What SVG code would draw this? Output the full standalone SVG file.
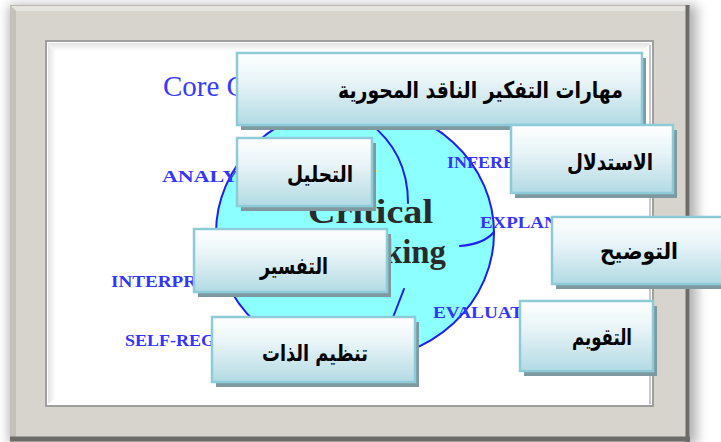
<svg xmlns="http://www.w3.org/2000/svg" width="721" height="442" viewBox="0 0 721 442">
<defs>
  <linearGradient id="boxg" x1="0" y1="0" x2="0" y2="1">
    <stop offset="0" stop-color="#ffffff"/>
    <stop offset="0.4" stop-color="#e8f4f7"/>
    <stop offset="1" stop-color="#b2dae4"/>
  </linearGradient>
  <linearGradient id="topband" x1="0" y1="0" x2="0" y2="1">
    <stop offset="0" stop-color="#e2e2e2"/>
    <stop offset="1" stop-color="#ffffff"/>
  </linearGradient>
  <linearGradient id="leftband" x1="0" y1="0" x2="1" y2="0">
    <stop offset="0" stop-color="#e4e4e4"/>
    <stop offset="1" stop-color="#ffffff"/>
  </linearGradient>
  <filter id="outsh" x="-10%" y="-10%" width="120%" height="120%">
    <feGaussianBlur stdDeviation="6"/>
  </filter>
  <filter id="soft" x="-5%" y="-5%" width="110%" height="110%">
    <feGaussianBlur stdDeviation="0.7"/>
  </filter>
</defs>
<style>
  .box{fill:url(#boxg);stroke:#8ecbd8;stroke-width:2.5}
  .sh{fill:#7e9aa0}
  .ar{font-family:"DejaVu Sans",sans-serif;font-weight:bold;font-size:23px;fill:#000;text-anchor:middle}
  .lbl{font-family:"Liberation Serif",serif;font-weight:bold;font-size:17px;fill:#3434ff}
  .big{font-family:"Liberation Serif",serif;font-weight:bold;font-size:34px;fill:#2a2a2a}
  .cl{fill:none;stroke:#1e1ef5;stroke-width:2;stroke-linecap:round}
</style>
<rect width="721" height="442" fill="#ffffff"/>
<!-- frame -->
<g id="frame">
  <rect x="9" y="5" width="688" height="440" fill="#000" opacity="0.3" filter="url(#outsh)"/>
  <rect x="10" y="5" width="680" height="437" fill="#d7d4cd"/>
  <polygon points="10,5 690,5 684,11 16,11" fill="#e6e4df"/>
  <polygon points="10,5 16,11 16,436 10,442" fill="#c4c1ba"/>
  <line x1="10" y1="5.5" x2="690" y2="5.5" stroke="#b9b7b1" stroke-width="1"/>
  <line x1="687.5" y1="5" x2="687.5" y2="442" stroke="#6c6b67" stroke-width="4"/>
  <line x1="10" y1="439" x2="690" y2="439" stroke="#6c6b67" stroke-width="5"/>
  <rect x="46" y="41" width="607" height="365" fill="#ffffff" stroke="#9f9f9f" stroke-width="2"/>
  <polygon points="48,43 651,43 643,51 56,51" fill="url(#topband)"/>
  <polygon points="48,43 56,51 56,398 48,404" fill="url(#leftband)"/>
  <line x1="650" y1="45" x2="650" y2="404" stroke="#c8c8c8" stroke-width="2"/>
</g>
<!-- background picture -->
<g id="circle">
  <ellipse cx="355" cy="233" rx="139" ry="128" fill="#8cffff" stroke="#1e1ef5" stroke-width="2"/>
  <path class="cl" d="M368,122 C392,140 408,165 408,203"/>
  <path class="cl" d="M460,246 Q484,244 494,232"/>
  <path class="cl" d="M404,289 L392,320"/>
  <rect x="373" y="170" width="5" height="2" fill="#f2e27a"/>
  <text class="big" x="308" y="223" textLength="125" lengthAdjust="spacingAndGlyphs">Critical</text>
  <text class="big" x="384" y="263" textLength="62" lengthAdjust="spacingAndGlyphs">king</text>
</g>
<g id="labels">
  <text x="163" y="96" font-family="Liberation Serif, serif" font-size="29" fill="#3a3aff">Core C</text>
  <text class="lbl" x="162" y="182" textLength="76" lengthAdjust="spacingAndGlyphs">ANALY</text>
  <text class="lbl" x="111" y="287" textLength="86" lengthAdjust="spacingAndGlyphs">INTERPR</text>
  <text class="lbl" x="125" y="346" textLength="90" lengthAdjust="spacingAndGlyphs">SELF-REG</text>
  <text class="lbl" x="447" y="168" textLength="68" lengthAdjust="spacingAndGlyphs">INFERE</text>
  <text class="lbl" x="480" y="228" textLength="138" lengthAdjust="spacingAndGlyphs">EXPLANATION</text>
  <text class="lbl" x="433" y="318" textLength="90" lengthAdjust="spacingAndGlyphs">EVALUAT</text>
</g>
<!-- nodes -->
<g id="n-title">
  <rect class="sh" x="241" y="58" width="405" height="72" filter="url(#soft)"/>
  <rect class="box" x="237" y="53" width="405" height="72"/>
  <text class="ar" x="480.5" y="98" textLength="285" lengthAdjust="spacingAndGlyphs">مهارات التفكير الناقد المحورية</text>
</g>
<g id="n-analysis">
  <rect class="sh" x="241" y="143" width="135" height="68" filter="url(#soft)"/>
  <rect class="box" x="237" y="138" width="135" height="68"/>
  <text class="ar" x="320" y="182" textLength="66" lengthAdjust="spacingAndGlyphs">التحليل</text>
</g>
<g id="n-interp">
  <rect class="sh" x="198" y="234" width="193" height="63" filter="url(#soft)"/>
  <rect class="box" x="194" y="229" width="193" height="63"/>
  <text class="ar" x="294" y="274" textLength="68" lengthAdjust="spacingAndGlyphs">التفسير</text>
</g>
<g id="n-selfreg">
  <rect class="sh" x="216" y="322" width="203" height="65" filter="url(#soft)"/>
  <rect class="box" x="212" y="317" width="203" height="65"/>
  <text class="ar" x="315" y="361" textLength="106" lengthAdjust="spacingAndGlyphs">تنظيم الذات</text>
</g>
<g id="n-inference">
  <rect class="sh" x="515" y="130" width="162" height="68" filter="url(#soft)"/>
  <rect class="box" x="511" y="125" width="162" height="68"/>
  <text class="ar" x="610" y="170" textLength="86" lengthAdjust="spacingAndGlyphs">الاستدلال</text>
</g>
<g id="n-explain">
  <rect class="sh" x="556" y="222" width="175" height="67" filter="url(#soft)"/>
  <rect class="box" x="552" y="217" width="175" height="67"/>
  <text class="ar" x="639" y="259" textLength="78" lengthAdjust="spacingAndGlyphs">التوضيح</text>
</g>
<g id="n-eval">
  <rect class="sh" x="524" y="306" width="133" height="70" filter="url(#soft)"/>
  <rect class="box" x="520" y="301" width="133" height="70"/>
  <text class="ar" x="602" y="345" textLength="60" lengthAdjust="spacingAndGlyphs">التقويم</text>
</g>
<g id="connectors"></g>
</svg>
